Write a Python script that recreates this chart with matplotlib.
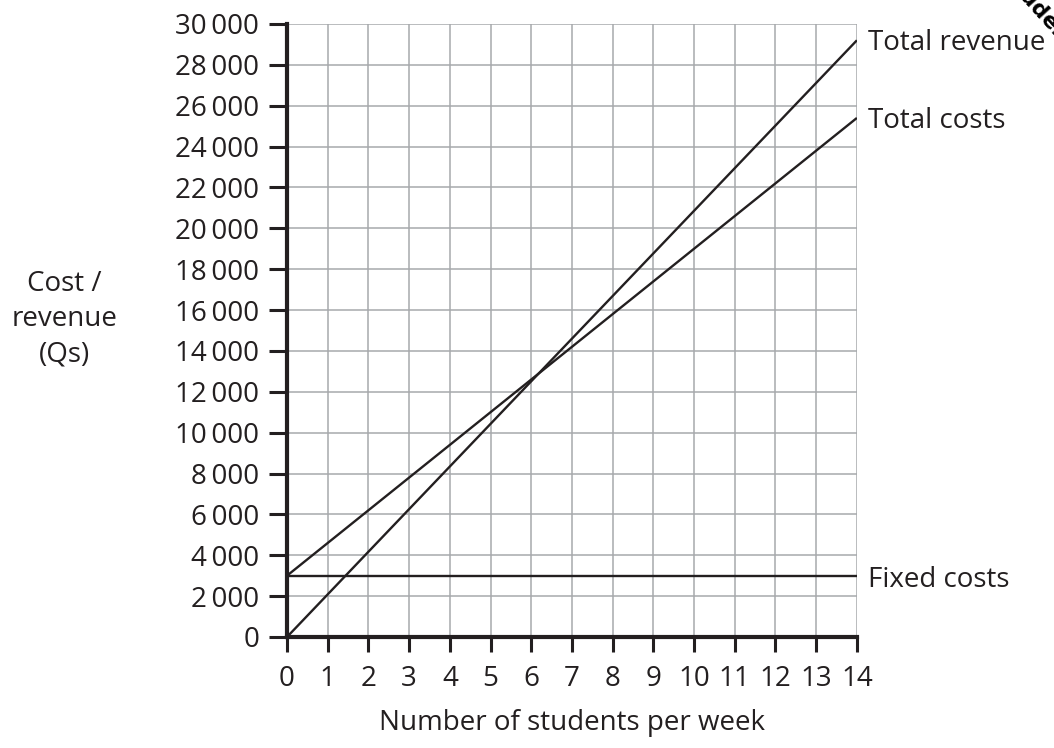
import matplotlib
matplotlib.use("Agg")
import matplotlib.pyplot as plt
from matplotlib.ticker import FuncFormatter

plt.rcParams['font.family'] = ['Open Sans', 'DejaVu Sans']

# data
students = [0, 14]
total_revenue = [0, 29200]
total_costs = [3000, 25400]
fixed_costs = [3000, 3000]

x_ticks = list(range(0, 15))
y_ticks = list(range(0, 30001, 2000))

ink = '#231f20'

def thousands(v, pos):
    v = int(v)
    if v < 1000:
        return str(v)
    return f"{v // 1000}\u2009{v % 1000:03d}"

fig = plt.figure(figsize=(10.54, 7.48), dpi=100)
ax = fig.add_axes([0.2723, 0.1484, 0.813 - 0.2723, 0.968 - 0.1484])

ax.plot(students, total_revenue, color=ink, lw=1.7, solid_capstyle='butt')
ax.plot(students, total_costs, color=ink, lw=1.7, solid_capstyle='butt')
ax.plot(students, fixed_costs, color=ink, lw=1.7, solid_capstyle='butt')

ax.set_xlim(0, 14)
ax.set_ylim(0, 30000)
ax.set_xticks(x_ticks)
ax.set_yticks(y_ticks)
ax.yaxis.set_major_formatter(FuncFormatter(thousands))

ax.grid(True, color='#a7a9ac', lw=1.1)
ax.set_axisbelow(True)
for side in ['top', 'right']:
    ax.spines[side].set_visible(False)
for side in ['left', 'bottom']:
    ax.spines[side].set_linewidth(3)
    ax.spines[side].set_color(ink)
    ax.spines[side].set_capstyle('projecting')

ax.tick_params(axis='y', length=13, width=2.2, color=ink, labelsize=20,
               labelcolor=ink, pad=7)
ax.tick_params(axis='x', length=11, width=2.2, color=ink, labelsize=20,
               labelcolor=ink, pad=9)

ax.set_xlabel('Number of students per week', fontsize=20, color=ink, labelpad=12)
fig.text(0.061, 0.573, 'Cost /\nrevenue\n(Qs)', ha='center', va='center',
         fontsize=20, color=ink, linespacing=1.33)

# line labels at the right-hand end
ax.text(14.28, total_revenue[1] - 150, 'Total revenue', fontsize=20, color=ink,
        va='center', ha='left')
ax.text(14.28, total_costs[1] - 150, 'Total costs', fontsize=20, color=ink,
        va='center', ha='left')
ax.text(14.28, fixed_costs[1] - 200, 'Fixed costs', fontsize=20, color=ink,
        va='center', ha='left')

# cut-off watermark in top corner
fig.text(0.985, 0.985, 'Student', fontsize=16, fontweight='bold', color='black',
         rotation=-48, ha='center', va='center', family=['DejaVu Sans'])

fig.savefig('out.png', dpi=100)
